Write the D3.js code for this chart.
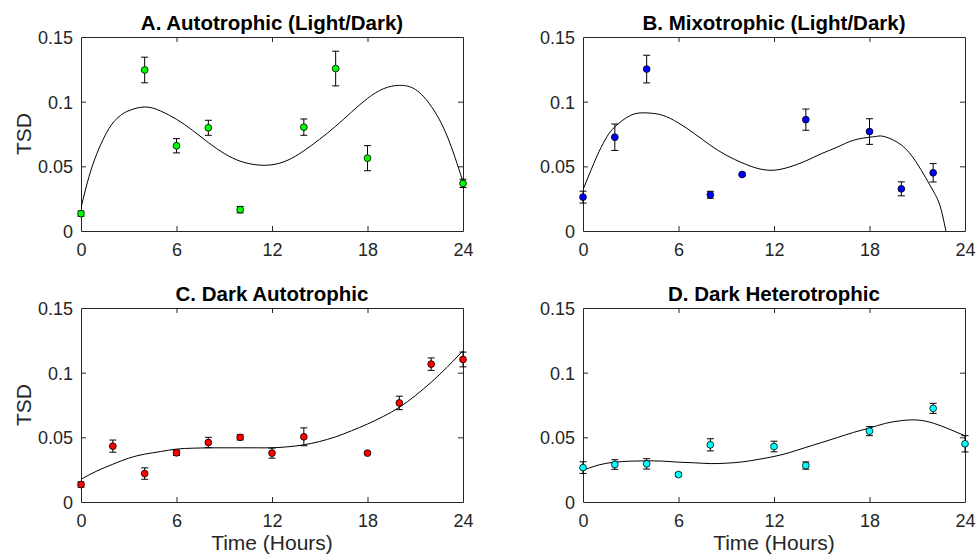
<!DOCTYPE html>
<html><head><meta charset="utf-8">
<script src="https://cdn.jsdelivr.net/npm/d3@7"></script>
<style>
body{margin:0;background:#fff}
svg{display:block}
text{font-family:"Liberation Sans",Arial,Helvetica,sans-serif}
</style>
</head><body>
<svg id="c" width="976" height="554"></svg>
<script>
// ---------- data ----------
const xTicks = [0, 6, 12, 18, 24];
const yTicks = [0, 0.05, 0.1, 0.15];
const yTickLabels = ["0", "0.05", "0.1", "0.15"];
const titles = ["A. Autotrophic (Light/Dark)", "B. Mixotrophic (Light/Dark)", "C. Dark Autotrophic", "D. Dark Heterotrophic"];
const markerColors = ["#00ff00", "#0000ff", "#ff0000", "#00ffff"];
const yLabel = "TSD";
const xLabel = "Time (Hours)";

const timeA = [0, 4, 6, 8, 10, 14, 16, 18, 24];
const tsdA  = [0.0134, 0.1245, 0.0659, 0.0798, 0.0165, 0.0803, 0.1256, 0.0563, 0.0368];
const errA  = [0.0020, 0.0099, 0.0055, 0.0058, 0.0025, 0.0063, 0.0134, 0.0097, 0.0032];
const fitTimeA = [0, 0.5, 1, 1.5, 2, 2.5, 3, 4, 5, 6, 7, 8, 9, 10, 11, 12, 13, 14, 15, 16, 17, 18, 19, 20, 21, 22, 23, 24];
const fitA     = [0.018, 0.0419, 0.0599, 0.0735, 0.0835, 0.0895, 0.093, 0.0959, 0.0928, 0.0864, 0.0779, 0.0684, 0.0599, 0.054, 0.0512, 0.0512, 0.0548, 0.062, 0.071, 0.081, 0.092, 0.1025, 0.110, 0.1126, 0.1095, 0.0965, 0.0735, 0.038];

const timeB = [0, 2, 4, 8, 10, 14, 18, 20, 22];
const tsdB  = [0.0262, 0.0725, 0.1252, 0.0280, 0.0437, 0.0861, 0.0769, 0.0326, 0.0450];
const errB  = [0.0046, 0.0102, 0.0107, 0.0027, 0.0010, 0.0082, 0.0099, 0.0054, 0.0071];
const fitTimeB = [0, 0.5, 1, 1.5, 2, 3, 4, 5, 6, 7, 8, 9, 10, 11, 12, 13, 14, 15, 16, 17, 18, 18.5, 19, 20, 21, 22, 22.5, 23];
const fitB     = [0.032, 0.047, 0.0612, 0.0728, 0.0805, 0.0895, 0.0913, 0.0895, 0.0835, 0.0753, 0.0663, 0.0586, 0.0527, 0.0483, 0.047, 0.0496, 0.0542, 0.0599, 0.065, 0.0702, 0.0725, 0.0733, 0.0728, 0.0665, 0.052, 0.031, 0.0165, -0.012];

const timeC = [0, 2, 4, 6, 8, 10, 12, 14, 18, 20, 22, 24];
const tsdC  = [0.0135, 0.0432, 0.0220, 0.0380, 0.0460, 0.0500, 0.0378, 0.0504, 0.0378, 0.0766, 0.1066, 0.1102];
const errC  = [0.0020, 0.0047, 0.0044, 0.0020, 0.0040, 0.0020, 0.0039, 0.0069, 0.0010, 0.0052, 0.0048, 0.0057];
const fitTimeC = [0, 1, 2, 3, 4, 5, 6, 7, 8, 9, 10, 11, 12, 13, 14, 15, 16, 17, 18, 19, 20, 21, 22, 23, 24];
const fitC     = [0.0176, 0.024, 0.0292, 0.0339, 0.037, 0.039, 0.0409, 0.0416, 0.0419, 0.0419, 0.0419, 0.0419, 0.0419, 0.0427, 0.0442, 0.0468, 0.0504, 0.0551, 0.0603, 0.0662, 0.0732, 0.0822, 0.0926, 0.1042, 0.117];

const timeD = [0, 2, 4, 6, 8, 12, 14, 18, 22, 24];
const tsdD  = [0.0266, 0.0290, 0.0295, 0.0212, 0.0442, 0.0429, 0.0282, 0.0548, 0.0724, 0.0450];
const errD  = [0.0045, 0.0037, 0.0040, 0.0015, 0.0047, 0.0041, 0.0028, 0.0035, 0.0039, 0.0063];
const fitTimeD = [0, 1, 2, 3, 4, 5, 6, 7, 8, 9, 10, 11, 12, 13, 14, 15, 16, 17, 18, 19, 20, 21, 22, 23, 24];
const fitD     = [0.0246, 0.0287, 0.0308, 0.0316, 0.0318, 0.0316, 0.0308, 0.0303, 0.0297, 0.030, 0.031, 0.0329, 0.0352, 0.0383, 0.0422, 0.046, 0.0499, 0.0538, 0.0572, 0.0608, 0.0629, 0.0634, 0.061, 0.0564, 0.0512];

// ---------- build ----------
const series = [
  {t: timeA, v: tsdA, e: errA, ft: fitTimeA, f: fitA},
  {t: timeB, v: tsdB, e: errB, ft: fitTimeB, f: fitB},
  {t: timeC, v: tsdC, e: errC, ft: fitTimeC, f: fitC},
  {t: timeD, v: tsdD, e: errD, ft: fitTimeD, f: fitD}
];
const lefts = [81, 583], tops = [37, 308];
const W = 382, H = 194;
const axisColor = "#262626";

const svg = d3.select("#c");
const defs = svg.append("defs");

series.forEach((s, i) => {
  const col = i % 2, row = Math.floor(i / 2);
  const x0 = lefts[col], y0 = tops[row];
  const x = d3.scaleLinear().domain([0, 24]).range([0, W]);
  const y = d3.scaleLinear().domain([0, 0.15]).range([H, 0]);
  const g = svg.append("g").attr("transform", `translate(${x0},${y0})`);

  defs.append("clipPath").attr("id", "clip" + i)
    .append("rect").attr("x", 0).attr("y", 0).attr("width", W).attr("height", H);

  // axes (inward ticks on all four sides)
  const fmtY = d => yTickLabels[yTicks.indexOf(d)];
  const axB = g.append("g").attr("transform", `translate(0,${H})`)
    .call(d3.axisBottom(x).tickValues(xTicks).tickSizeInner(-5).tickSizeOuter(0).tickPadding(12));
  const axT = g.append("g")
    .call(d3.axisTop(x).tickValues(xTicks).tickSizeInner(-5).tickSizeOuter(0).tickFormat(""));
  const axL = g.append("g")
    .call(d3.axisLeft(y).tickValues(yTicks).tickSizeInner(-5).tickSizeOuter(0).tickPadding(8).tickFormat(fmtY));
  const axR = g.append("g").attr("transform", `translate(${W},0)`)
    .call(d3.axisRight(y).tickValues(yTicks).tickSizeInner(-5).tickSizeOuter(0).tickFormat(""));
  [axB, axT, axL, axR].forEach(a => {
    a.select(".domain").attr("stroke", axisColor).attr("stroke-width", 1);
    a.selectAll(".tick line").attr("stroke", axisColor).attr("stroke-width", 1);
    a.selectAll(".tick text").attr("fill", axisColor).style("font-size", "18px");
  });
  axB.selectAll(".tick text").attr("dy", "0.71em");
  axL.selectAll(".tick text").attr("dy", "0.36em");
  [axB, axT].forEach(a => a.selectAll(".tick line").filter(d => d === 0 || d === 24).remove());
  [axL, axR].forEach(a => a.selectAll(".tick line").filter(d => d === 0 || d === 0.15).remove());

  // fit curve
  const pts = s.ft.map((t, k) => [t, s.f[k]]);
  g.append("path").datum(pts)
    .attr("clip-path", `url(#clip${i})`)
    .attr("fill", "none").attr("stroke", "#000").attr("stroke-width", 1)
    .attr("d", d3.line().x(d => x(d[0])).y(d => y(d[1])).curve(d3.curveNatural));

  // error bars
  const data = s.t.map((t, k) => ({t, v: s.v[k], e: s.e[k]}));
  const eb = g.append("g").attr("stroke", "#000").attr("stroke-width", 1).attr("fill", "none");
  const cw = 3.5;
  data.forEach(d => {
    const cx = x(d.t), yt = y(d.v + d.e), yb = y(d.v - d.e);
    eb.append("line").attr("x1", cx).attr("x2", cx).attr("y1", yt).attr("y2", yb);
    eb.append("line").attr("x1", cx - cw).attr("x2", cx + cw).attr("y1", yt).attr("y2", yt);
    eb.append("line").attr("x1", cx - cw).attr("x2", cx + cw).attr("y1", yb).attr("y2", yb);
  });

  // markers
  g.append("g").selectAll("circle").data(data).join("circle")
    .attr("cx", d => x(d.t)).attr("cy", d => y(d.v)).attr("r", 3.4)
    .attr("fill", markerColors[i]).attr("stroke", "#000").attr("stroke-width", 0.8);

  // title
  g.append("text").attr("x", W / 2).attr("y", -7).attr("text-anchor", "middle")
    .style("font-size", "20.5px").style("font-weight", "bold").attr("fill", "#000")
    .text(titles[i]);

  if (col === 0) {
    g.append("text").attr("transform", `translate(${-50},${H / 2}) rotate(-90)`)
      .attr("text-anchor", "middle").style("font-size", "21px").attr("fill", axisColor)
      .text(yLabel);
  }
  if (row === 1) {
    g.append("text").attr("x", W / 2).attr("y", H + 48).attr("text-anchor", "middle")
      .style("font-size", "21px").attr("fill", axisColor).text(xLabel);
  }
});
</script>
</body></html>
